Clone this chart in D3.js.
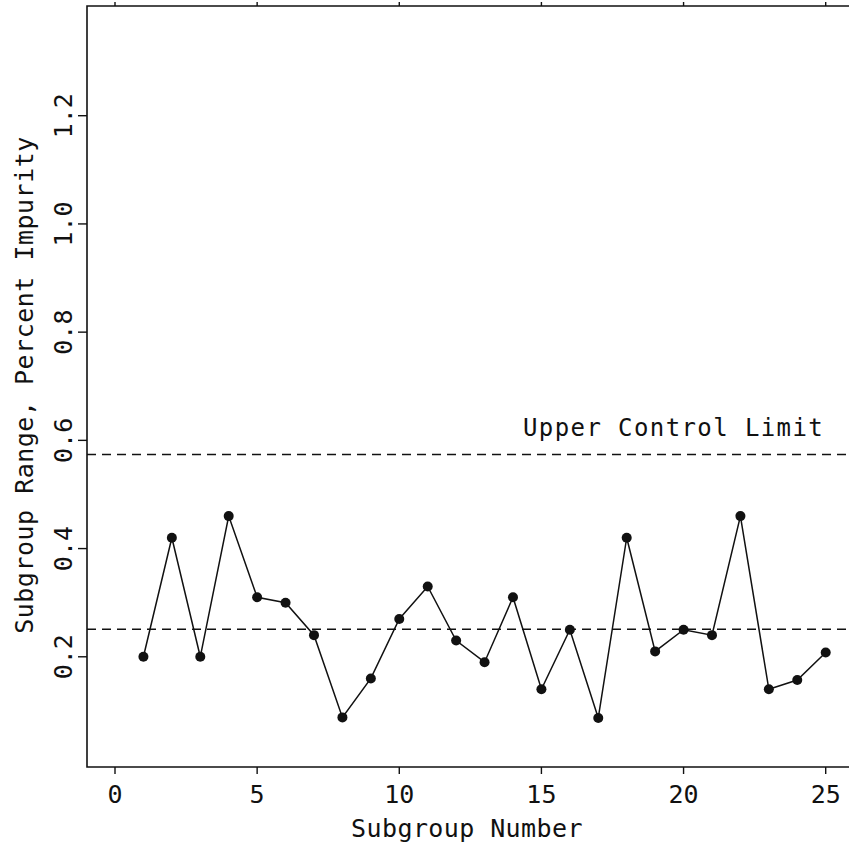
<!DOCTYPE html>
<html>
<head>
<meta charset="utf-8">
<script src="https://cdn.jsdelivr.net/npm/d3@7"></script>
<style>
  body { margin: 0; background: #fff; }
  text { font-family: "DejaVu Sans Mono", "Liberation Mono", monospace; fill: #111; }
</style>
</head>
<body>
<div id="chart"></div>
<script>
// subgroup ranges (percent impurity)
const subgroups = d3.range(1, 26);
const ranges = [0.20, 0.42, 0.20, 0.46, 0.31, 0.30, 0.24, 0.088, 0.16, 0.27,
                0.33, 0.23, 0.19, 0.31, 0.14, 0.25, 0.087, 0.42, 0.21, 0.25,
                0.24, 0.46, 0.14, 0.157, 0.208];
const centerLine = 0.251;
const upperLimit = 0.574;
const xTicks = [0, 5, 10, 15, 20, 25];
const yTicks = [0.2, 0.4, 0.6, 0.8, 1.0, 1.2];

const width = 849, height = 845;
const plotLeft = 87, plotTop = 6, plotBottom = 767;

const svg = d3.select("#chart").append("svg")
  .attr("width", width)
  .attr("height", height);

// x: 0 sits at 115 and 25 at ~826; the plot runs on past the right edge
const x = d3.scaleLinear().domain([0, 25]).range([115, 825.7]);
const y = d3.scaleLinear().domain([0, 1.4]).range([765, 7.5]);

// frame (left, top, bottom) - no right edge visible
svg.append("path")
  .attr("fill", "none")
  .attr("stroke", "#111")
  .attr("stroke-width", 1.6)
  .attr("d", `M${width},${plotTop}H${plotLeft}V${plotBottom}H${width}`);

// bottom ticks + labels
const bx = svg.append("g");
bx.selectAll("line").data(xTicks).join("line")
  .attr("x1", d => x(d)).attr("x2", d => x(d))
  .attr("y1", plotBottom).attr("y2", plotBottom + 7)
  .attr("stroke", "#111").attr("stroke-width", 1.4);
bx.selectAll("text").data(xTicks).join("text")
  .attr("x", d => x(d)).attr("y", 803)
  .attr("text-anchor", "middle")
  .attr("font-size", 25)
  .text(d => d);

// top ticks (pointing up, no labels)
svg.append("g").selectAll("line").data(xTicks).join("line")
  .attr("x1", d => x(d)).attr("x2", d => x(d))
  .attr("y1", plotTop).attr("y2", plotTop - 4)
  .attr("stroke", "#111").attr("stroke-width", 1.4);

// left ticks + rotated labels
const ly = svg.append("g");
ly.selectAll("line").data(yTicks).join("line")
  .attr("x1", plotLeft - 9).attr("x2", plotLeft)
  .attr("y1", d => y(d)).attr("y2", d => y(d))
  .attr("stroke", "#111").attr("stroke-width", 1.4);
ly.selectAll("text").data(yTicks).join("text")
  .attr("transform", d => `translate(72,${y(d)}) rotate(-90)`)
  .attr("text-anchor", "middle")
  .attr("font-size", 25)
  .text(d => d3.format(".1f")(d));

// axis titles
svg.append("text")
  .attr("x", 467).attr("y", 837)
  .attr("text-anchor", "middle")
  .attr("font-size", 25)
  .attr("letter-spacing", 0.4)
  .text("Subgroup Number");

svg.append("text")
  .attr("transform", "translate(33,385) rotate(-90)")
  .attr("text-anchor", "middle")
  .attr("font-size", 25)
  .attr("letter-spacing", 0.5)
  .text("Subgroup Range, Percent Impurity");

// center line and upper control limit
svg.selectAll("line.limit").data([centerLine, upperLimit]).join("line")
  .attr("class", "limit")
  .attr("x1", plotLeft).attr("x2", width)
  .attr("y1", d => y(d)).attr("y2", d => y(d))
  .attr("stroke", "#111")
  .attr("stroke-width", 1.5)
  .attr("stroke-dasharray", "9,6");

svg.append("text")
  .attr("x", 523).attr("y", 436)
  .attr("font-size", 24)
  .attr("letter-spacing", 1.4)
  .text("Upper Control Limit");

// the range series
const line = d3.line()
  .x((d, i) => x(subgroups[i]))
  .y(d => y(d));

svg.append("path")
  .datum(ranges)
  .attr("fill", "none")
  .attr("stroke", "#111")
  .attr("stroke-width", 1.5)
  .attr("d", line);

svg.selectAll("circle").data(ranges).join("circle")
  .attr("cx", (d, i) => x(subgroups[i]))
  .attr("cy", d => y(d))
  .attr("r", 5)
  .attr("fill", "#111");
</script>
</body>
</html>
